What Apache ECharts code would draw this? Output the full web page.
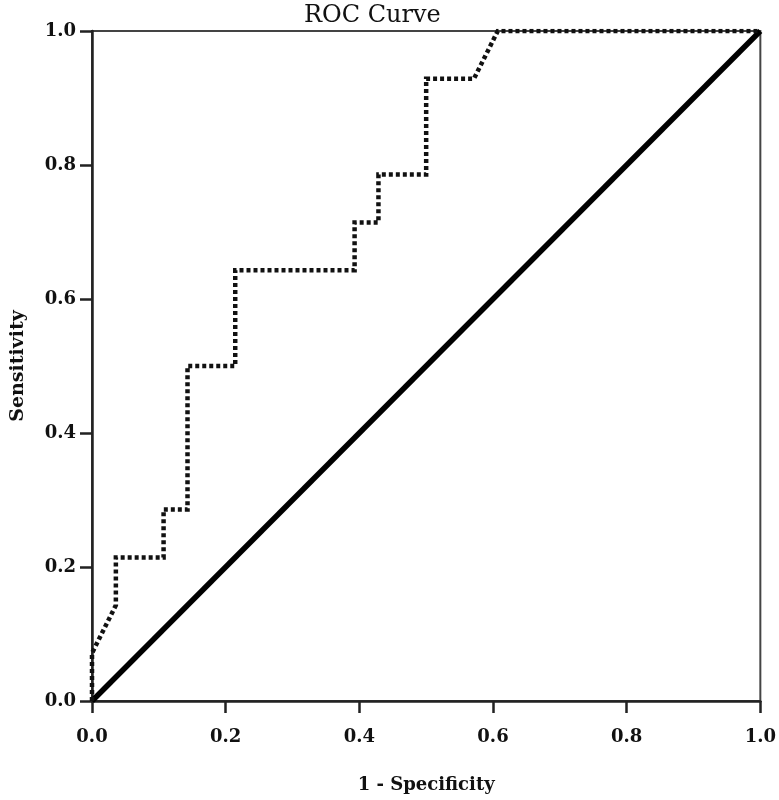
<!DOCTYPE html>
<html>
<head>
<meta charset="utf-8">
<script src="https://cdn.jsdelivr.net/npm/echarts@6/dist/echarts.min.js"></script>
<style>html,body{margin:0;padding:0;background:#fff}#c{width:779px;height:800px}</style>
</head>
<body>
<div id="c"></div>
<script>
// ROC curve points (1 - specificity, sensitivity)
var rocFpr = [0, 0, 0.0357, 0.0357, 0.1071, 0.1071, 0.1429, 0.1429, 0.2143, 0.2143, 0.3929, 0.3929, 0.4286, 0.4286, 0.5, 0.5, 0.5714, 0.6071, 1.0];
var rocTpr = [0, 0.0714, 0.1429, 0.2143, 0.2143, 0.2857, 0.2857, 0.5, 0.5, 0.6429, 0.6429, 0.7143, 0.7143, 0.7857, 0.7857, 0.9286, 0.9286, 1.0, 1.0];
// Reference (chance) line
var refX = [0, 1];
var refY = [0, 1];
var xTicks = [0, 0.2, 0.4, 0.6, 0.8, 1.0];
var yTicks = [0, 0.2, 0.4, 0.6, 0.8, 1.0];

var rocData = rocFpr.map(function (x, i) { return [x, rocTpr[i]]; });
var refData = refX.map(function (x, i) { return [x, refY[i]]; });

var labelFont = { fontFamily: 'DejaVu Serif', fontWeight: 'bold', fontSize: 18, color: '#111' };
var chart = echarts.init(document.getElementById('c'), null, { renderer: 'canvas' });
chart.setOption({
  animation: false,
  backgroundColor: '#fff',
  title: {
    text: 'ROC Curve',
    left: 299, top: -1,
    textStyle: { fontFamily: 'DejaVu Serif', fontWeight: 'normal', fontSize: 24, color: '#111' }
  },
  grid: {
    left: 92, right: 17, top: 31, bottom: 99,
    show: true, borderColor: '#444', borderWidth: 2, backgroundColor: '#fff'
  },
  xAxis: {
    type: 'value', min: 0, max: 1, interval: 0.2,
    name: '1 - Specificity', nameLocation: 'middle', nameGap: 75,
    nameTextStyle: { fontFamily: 'DejaVu Serif', fontWeight: 'bold', fontSize: 18, color: '#111' },
    axisLine: { show: true, lineStyle: { color: '#222', width: 2.5 } },
    axisTick: { show: true, inside: false, length: 12, lineStyle: { color: '#222', width: 2.5 } },
    splitLine: { show: false },
    axisLabel: Object.assign({ margin: 27, formatter: function (v) { return xTicks.indexOf(v) >= 0 ? v.toFixed(1) : ''; } }, labelFont)
  },
  yAxis: {
    type: 'value', min: 0, max: 1, interval: 0.2,
    name: 'Sensitivity', nameLocation: 'middle', nameGap: 64,
    nameTextStyle: { fontFamily: 'DejaVu Serif', fontWeight: 'bold', fontSize: 19, color: '#111' },
    axisLine: { show: true, lineStyle: { color: '#222', width: 2.5 } },
    axisTick: { show: true, inside: false, length: 12, lineStyle: { color: '#222', width: 2.5 } },
    splitLine: { show: false },
    axisLabel: Object.assign({ margin: 16, formatter: function (v) { return yTicks.indexOf(v) >= 0 ? v.toFixed(1) : ''; } }, labelFont)
  },
  series: [
    {
      type: 'line', data: refData, showSymbol: false, symbol: 'none', silent: true,
      lineStyle: { color: '#000', width: 5.5, type: 'solid' }, z: 3
    },
    {
      type: 'line', data: rocData, showSymbol: false, symbol: 'none', silent: true,
      lineStyle: { color: '#111', width: 4.5, type: [4, 3], cap: 'butt', join: 'miter' }, z: 4
    }
  ]
});
</script>
</body>
</html>
